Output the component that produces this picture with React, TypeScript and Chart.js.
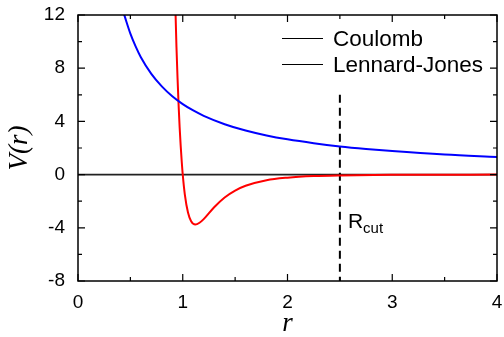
import React, { useEffect, useRef } from "react";
import { Chart, registerables } from "chart.js";

Chart.register(...registerables);

// Coulomb potential samples (r, V)
const coulombR = [0.43, 0.45, 0.5, 0.55, 0.6, 0.7, 0.8, 0.9, 1.0, 1.1, 1.2, 1.4, 1.6, 1.8, 2.0, 2.25, 2.5, 2.75, 3.0, 3.5, 4.0];
const coulombV = [12.3, 11.8, 10.6, 9.64, 8.83, 7.57, 6.63, 5.89, 5.3, 4.82, 4.42, 3.79, 3.31, 2.94, 2.65, 2.36, 2.12, 1.93, 1.77, 1.51, 1.33];

// Lennard-Jones potential samples (r, V)
const ljR = [0.93, 0.94, 0.95, 0.96, 0.97, 0.98, 0.99, 1.0, 1.02, 1.05, 1.08, 1.12, 1.16, 1.2, 1.3, 1.4, 1.5, 1.6, 1.8, 2.0, 2.25, 2.5, 3.0, 3.5, 4.0];
const ljV = [12.5, 9.6, 7.3, 5.3, 3.6, 2.2, 1.0, 0, -1.5, -2.85, -3.5, -3.75, -3.62, -3.35, -2.45, -1.72, -1.2, -0.84, -0.42, -0.23, -0.11, -0.06, -0.02, -0.01, 0];

// Axis ticks
const xTicks = [0, 1, 2, 3, 4];
const yTicks = [-8, -4, 0, 4, 8, 12];

// Cut-off radius marker
const rCut = 2.5;
const rCutTop = 6;

const seriesNames = ["Coulomb", "Lennard-Jones"];

const SANS = '"Liberation Sans", Arial, sans-serif';
const SERIF = '"Liberation Serif", "Times New Roman", serif';

// keep the plot frame where the layout padding puts it
const noScalePadding = (s: any) => {
  s.paddingLeft = 0;
  s.paddingRight = 0;
  s.paddingTop = 0;
  s.paddingBottom = 0;
};

const framePlugin = {
  id: "frame",
  beforeDatasetsDraw(chart: any) {
    const { ctx, chartArea: a, scales } = chart;
    const x = scales.x;
    const y = scales.y;
    ctx.save();
    // zero line
    ctx.strokeStyle = "#222";
    ctx.lineWidth = 1.6;
    ctx.beginPath();
    const y0 = y.getPixelForValue(0);
    ctx.moveTo(a.left, y0);
    ctx.lineTo(a.right, y0);
    ctx.stroke();
    // cut-off dashed line
    ctx.setLineDash([8, 5]);
    ctx.lineWidth = 2;
    ctx.strokeStyle = "#000";
    const xc = x.getPixelForValue(rCut);
    ctx.beginPath();
    ctx.moveTo(xc, y.getPixelForValue(rCutTop));
    ctx.lineTo(xc, a.bottom);
    ctx.stroke();
    ctx.restore();
  },
  afterDraw(chart: any) {
    const { ctx, chartArea: a, scales } = chart;
    const x = scales.x;
    const y = scales.y;
    ctx.save();
    ctx.strokeStyle = "#000";
    ctx.lineWidth = 1.5;
    ctx.strokeRect(a.left, a.top, a.right - a.left, a.bottom - a.top);

    // inward ticks
    ctx.lineWidth = 1.2;
    ctx.beginPath();
    for (let i = 0; i < xTicks.length; i++) {
      const v = xTicks[i];
      const px = x.getPixelForValue(v);
      ctx.moveTo(px, a.bottom); ctx.lineTo(px, a.bottom - 7);
      ctx.moveTo(px, a.top); ctx.lineTo(px, a.top + 7);
      if (i < xTicks.length - 1) {
        const m = x.getPixelForValue((v + xTicks[i + 1]) / 2);
        ctx.moveTo(m, a.bottom); ctx.lineTo(m, a.bottom - 4);
        ctx.moveTo(m, a.top); ctx.lineTo(m, a.top + 4);
      }
    }
    for (let i = 0; i < yTicks.length; i++) {
      const v = yTicks[i];
      const py = y.getPixelForValue(v);
      ctx.moveTo(a.left, py); ctx.lineTo(a.left + 7, py);
      ctx.moveTo(a.right, py); ctx.lineTo(a.right - 7, py);
      if (i < yTicks.length - 1) {
        const m = y.getPixelForValue((v + yTicks[i + 1]) / 2);
        ctx.moveTo(a.left, m); ctx.lineTo(a.left + 4, m);
        ctx.moveTo(a.right, m); ctx.lineTo(a.right - 4, m);
      }
    }
    ctx.stroke();

    // legend
    ctx.fillStyle = "#000";
    ctx.font = `22.5px ${SANS}`;
    ctx.textBaseline = "middle";
    ctx.textAlign = "left";
    ctx.lineWidth = 1;
    chart.data.datasets.forEach((ds: any, i: number) => {
      const ly = 38.5 + i * 26;
      ctx.beginPath();
      ctx.moveTo(282, ly);
      ctx.lineTo(323, ly);
      ctx.stroke();
      ctx.fillText(ds.label, 333, ly + 1);
    });

    // R_cut label
    ctx.textBaseline = "alphabetic";
    const xc = x.getPixelForValue(rCut);
    ctx.font = `21px ${SANS}`;
    ctx.fillText("R", xc + 8, 228);
    const rw = ctx.measureText("R").width;
    ctx.font = `15px ${SANS}`;
    ctx.fillText("cut", xc + 8 + rw, 233);

    // axis titles
    ctx.font = `italic 27px ${SERIF}`;
    ctx.textAlign = "center";
    ctx.fillText("r", (a.left + a.right) / 2, 331);
    ctx.translate(27, (a.top + a.bottom) / 2);
    ctx.rotate(-Math.PI / 2);
    ctx.fillText("V(r)", 0, 0);
    ctx.restore();
  },
};

export default function App() {
  const ref = useRef<HTMLCanvasElement>(null);
  useEffect(() => {
    if (!ref.current) return;
    const chart = new Chart(ref.current, {
      type: "scatter",
      data: {
        datasets: [
          {
            label: seriesNames[0],
            data: coulombR.map((r, i) => ({ x: r, y: coulombV[i] })),
            showLine: true,
            borderColor: "#0000ff",
            borderWidth: 2,
            pointRadius: 0,
            cubicInterpolationMode: "monotone",
          },
          {
            label: seriesNames[1],
            data: ljR.map((r, i) => ({ x: r, y: ljV[i] })),
            showLine: true,
            borderColor: "#ff0000",
            borderWidth: 2,
            pointRadius: 0,
            cubicInterpolationMode: "monotone",
          },
        ],
      },
      options: {
        animation: false,
        responsive: false,
        events: [],
        layout: { padding: { top: 15, right: 7, left: 0, bottom: 0 } },
        plugins: { legend: { display: false }, tooltip: { enabled: false } },
        scales: {
          x: {
            type: "linear",
            min: 0,
            max: 4,
            afterFit: (s: any) => { s.height = 56; noScalePadding(s); },
            afterBuildTicks: (s: any) => { s.ticks = xTicks.map((v) => ({ value: v })); },
            grid: { display: false, drawTicks: false },
            border: { display: false },
            ticks: { color: "#000", padding: 10, font: { size: 19, family: SANS } },
          },
          y: {
            type: "linear",
            min: -8,
            max: 12,
            afterFit: (s: any) => { s.width = 78; noScalePadding(s); },
            afterBuildTicks: (s: any) => { s.ticks = yTicks.map((v) => ({ value: v })); },
            grid: { display: false, drawTicks: false },
            border: { display: false },
            ticks: { color: "#000", padding: 13, font: { size: 19, family: SANS } },
          },
        },
      },
      plugins: [framePlugin],
    });
    return () => chart.destroy();
  }, []);
  return (
    <div style={{ position: "fixed", left: 0, top: 0, width: 504, height: 337, background: "#fff" }}>
      <canvas ref={ref} width={504} height={337} />
    </div>
  );
}
